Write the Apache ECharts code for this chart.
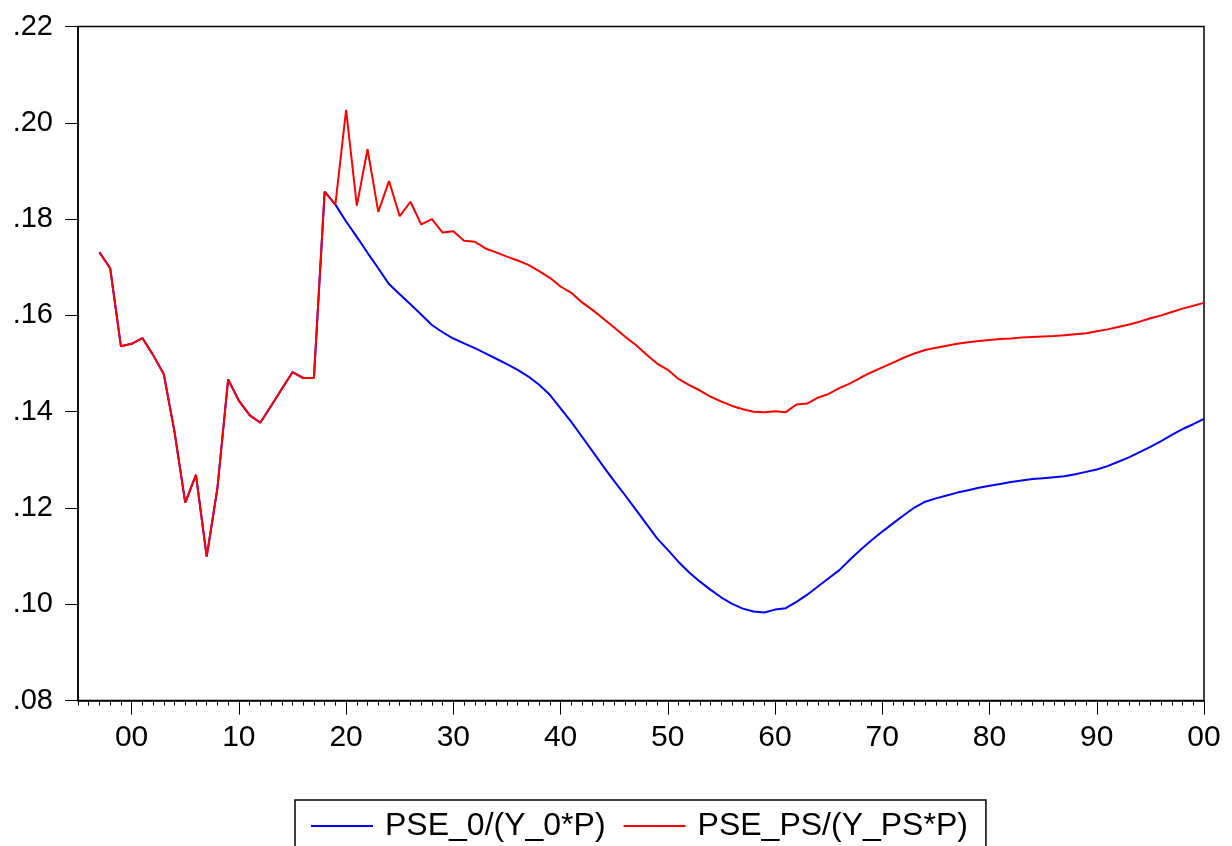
<!DOCTYPE html>
<html>
<head>
<meta charset="utf-8">
<title>PSE ratio</title>
<script src="https://cdn.jsdelivr.net/npm/echarts@6/dist/echarts.min.js"></script>
<style>
  html, body { margin: 0; padding: 0; background: #fff; }
  #chart { width: 1232px; height: 846px; }
</style>
</head>
<body>
<div id="chart"></div>
<script>
// Annual series, first observation 1997, last 2100
const firstYear = 1997;

// Common history 1997-2019 (both scenarios identical)
const history = [
  .1731, .1698, .1536, .1541, .1553, .1518, .1478, .1358, .1211, .1269,
  .1099, .1241, .1467, .1423, .1393, .1377, .1412, .1447, .1482, .1470,
  .1470, .1857, .1830
];

// PSE_0/(Y_0*P), 2020-2100
const baselinePath = [
  .1795, .1763, .1730, .1698, .1665, .1644, .1623, .1602, .1580, .1565,
  .1552, .1542, .1532, .1521, .1510, .1499, .1487, .1473, .1456, .1435,
  .1407, .1379, .1348, .1317, .1286, .1256, .1227, .1197, .1167, .1137,
  .1113, .1088, .1066, .1047, .1030, .1014, .1001, .0991, .0985, .0983,
  .0989, .0992, .1005, .1020, .1037, .1054, .1071, .1093, .1114, .1133,
  .1151, .1168, .1185, .1201, .1213, .1220, .1226, .1232, .1237, .1242,
  .1246, .1250, .1254, .1257, .1260, .1262, .1264, .1266, .1270, .1275,
  .1280, .1287, .1296, .1305, .1316, .1327, .1339, .1352, .1364, .1374,
  .1385
];

// PSE_PS/(Y_PS*P), 2020-2100
const policyPath = [
  .2027, .1828, .1945, .1815, .1879, .1806, .1836, .1789, .1800, .1772,
  .1775, .1755, .1753, .1739, .1731, .1722, .1714, .1705, .1692, .1678,
  .1660, .1647, .1627, .1611, .1593, .1575, .1556, .1539, .1519, .1500,
  .1487, .1468, .1455, .1444, .1431, .1421, .1412, .1405, .1400, .1399,
  .1401, .1399, .1415, .1417, .1429, .1437, .1449, .1459, .1471, .1482,
  .1492, .1502, .1512, .1521, .1528, .1533, .1537, .1541, .1544, .1547,
  .1549, .1551, .1552, .1554, .1555, .1556, .1557, .1559, .1561, .1563,
  .1567, .1571, .1576, .1581, .1587, .1594, .1600, .1607, .1614, .1620,
  .1626
];

const seriesNames = ['PSE_0/(Y_0*P)', 'PSE_PS/(Y_PS*P)'];
const decadeTicks = [2000, 2010, 2020, 2030, 2040, 2050, 2060, 2070, 2080, 2090, 2100];
const yTicks = { min: 0.08, max: 0.22, step: 0.02 };
const xRange = { min: 1995, max: 2100 };

function toPairs(values) {
  return values.map((v, i) => [firstYear + i, v]);
}

const baseline = toPairs(history.concat(baselinePath));
const policy = toPairs(history.concat(policyPath));

const FONT = '"Liberation Sans", Arial, Helvetica, sans-serif';

const chart = echarts.init(document.getElementById('chart'), null, { renderer: 'canvas' });

chart.setOption({
  animation: false,
  backgroundColor: '#ffffff',
  grid: {
    left: 78, right: 28, top: 26.5, bottom: 145.4,
    show: true, borderColor: '#000', borderWidth: 1.5,
    backgroundColor: 'transparent'
  },
  legend: {
    data: seriesNames,
    left: 295, top: 800,
    padding: [10, 18, 20, 16],
    itemGap: 18,
    itemWidth: 62,
    itemHeight: 2,
    icon: 'rect',
    borderColor: '#000', borderWidth: 1.5,
    textStyle: { fontFamily: FONT, fontSize: 32, color: '#000', padding: [0, 0, 0, 7] }
  },
  xAxis: [
    {
      // yearly minor ticks
      type: 'value', min: xRange.min, max: xRange.max, interval: 1,
      position: 'bottom',
      axisLine: { show: true, lineStyle: { color: '#000', width: 1.5 } },
      axisTick: { show: true, length: 5, lineStyle: { color: '#000', width: 1 } },
      axisLabel: { show: false },
      splitLine: { show: false }
    },
    {
      // decade ticks and labels
      type: 'value', min: xRange.min, max: xRange.max,
      position: 'bottom', offset: 0,
      axisLine: { show: false },
      axisTick: { show: true, length: 14, customValues: decadeTicks, lineStyle: { color: '#000', width: 1 } },
      axisLabel: {
        show: true, customValues: decadeTicks, margin: 22,
        fontFamily: FONT, fontSize: 30, color: '#000',
        formatter: v => String(Math.round(v) % 100).padStart(2, '0')
      },
      splitLine: { show: false }
    }
  ],
  yAxis: {
    type: 'value', min: yTicks.min, max: yTicks.max, interval: yTicks.step,
    axisLine: { show: true, lineStyle: { color: '#000', width: 1.5 } },
    axisTick: { show: true, length: 13, lineStyle: { color: '#000', width: 1 } },
    axisLabel: {
      margin: 25, fontFamily: FONT, fontSize: 29, color: '#000',
      formatter: v => v.toFixed(2).replace(/^0/, '')
    },
    splitLine: { show: false }
  },
  series: [
    {
      name: seriesNames[0], type: 'line', xAxisIndex: 0,
      data: baseline, showSymbol: false, symbol: 'none',
      lineStyle: { color: '#0000ff', width: 2 }, itemStyle: { color: '#0000ff' },
      z: 2
    },
    {
      name: seriesNames[1], type: 'line', xAxisIndex: 0,
      data: policy, showSymbol: false, symbol: 'none',
      lineStyle: { color: '#ff0000', width: 2 }, itemStyle: { color: '#ff0000' },
      z: 3
    }
  ]
});
</script>
</body>
</html>
